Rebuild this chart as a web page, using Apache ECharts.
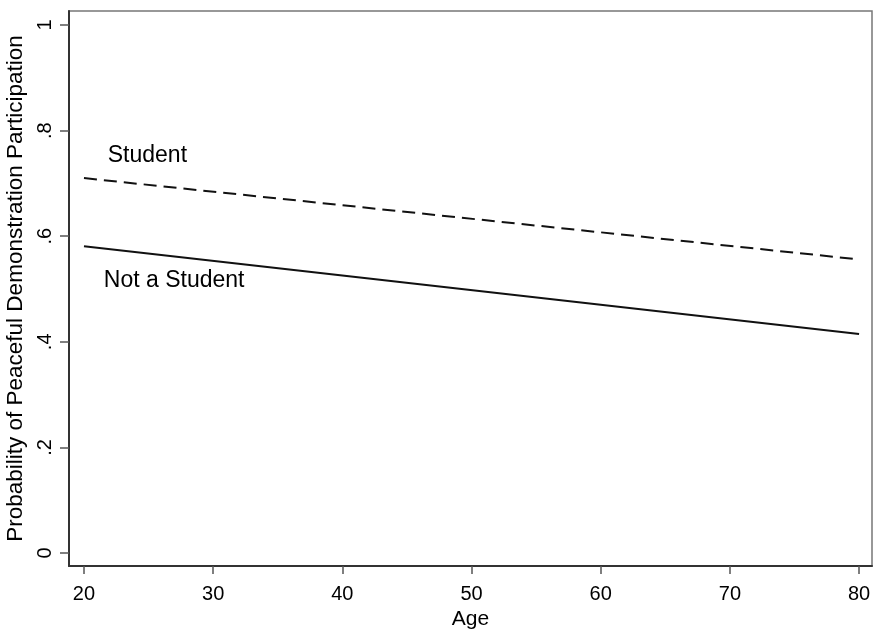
<!DOCTYPE html>
<html>
<head>
<meta charset="utf-8">
<title>Peaceful demonstration participation by age</title>
<script src="https://cdn.jsdelivr.net/npm/echarts@6/dist/echarts.min.js"></script>
<style>
  html, body { margin: 0; padding: 0; background: #fff; }
  #chart { width: 873px; height: 632px; }
</style>
</head>
<body>
<div id="chart"></div>
<script>
// predicted probabilities at the ends of the age range
var ages = [20, 80];
var studentVals = [0.710, 0.556];
var nonStudentVals = [0.581, 0.415];

// tick labels
var xTicks = [20, 30, 40, 50, 60, 70, 80];
var yTicks = [0, 0.2, 0.4, 0.6, 0.8, 1];
var yTickText = { '0': '0', '0.2': '.2', '0.4': '.4', '0.6': '.6', '0.8': '.8', '1': '1' };

// in-plot line labels: [age, prob, text]
var lineLabels = [
    [21.8, 0.753, 'Student'],
    [21.5, 0.516, 'Not a Student']
];

function pairs(xs, ys) {
    return xs.map(function (x, i) { return [x, ys[i]]; });
}

var font = 'Liberation Sans, Arial, Helvetica, sans-serif';
var myChart = echarts.init(document.getElementById('chart'));
var option = {
    animation: false,
    backgroundColor: '#fff',
    grid: {
        left: 69, right: 1, top: 11, bottom: 66,
        outerBoundsMode: 'none',
        containLabel: false,
        show: true,
        borderColor: '#777',
        borderWidth: 1.5
    },
    xAxis: {
        type: 'value',
        min: 18.84,
        max: 81.0,
        name: 'Age',
        nameLocation: 'middle',
        nameGap: 43,
        nameTextStyle: { fontFamily: font, fontSize: 21, color: '#000' },
        axisLine: { show: true, onZero: false, lineStyle: { color: '#333', width: 2 } },
        axisTick: { show: true, length: 8, lineStyle: { color: '#555', width: 1.5 }, customValues: xTicks },
        axisLabel: { fontFamily: font, fontSize: 20, color: '#000', margin: 18, customValues: xTicks },
        splitLine: { show: false }
    },
    yAxis: {
        type: 'value',
        min: -0.0246,
        max: 1.0265,
        name: 'Probability of Peaceful Demonstration Participation',
        nameLocation: 'middle',
        nameGap: 42,
        nameTextStyle: { fontFamily: font, fontSize: 22.5, color: '#000' },
        axisLine: { show: true, onZero: false, lineStyle: { color: '#333', width: 2 } },
        axisTick: { show: true, length: 9, lineStyle: { color: '#555', width: 1.5 }, customValues: yTicks },
        axisLabel: {
            fontFamily: font, fontSize: 20, color: '#000', margin: 14, rotate: 90,
            customValues: yTicks,
            formatter: function (v) {
                var k = String(Math.round(v * 10) / 10);
                return yTickText[k] !== undefined ? yTickText[k] : k;
            }
        },
        splitLine: { show: false }
    },
    series: [
        {
            name: 'Student',
            type: 'line',
            data: pairs(ages, studentVals),
            showSymbol: false,
            symbol: 'none',
            lineStyle: { color: '#111', width: 2, type: [13, 7] }
        },
        {
            name: 'Not a Student',
            type: 'line',
            data: pairs(ages, nonStudentVals),
            showSymbol: false,
            symbol: 'none',
            lineStyle: { color: '#111', width: 2, type: 'solid' }
        },
        {
            type: 'scatter',
            symbolSize: 1,
            itemStyle: { color: 'rgba(0,0,0,0)' },
            data: lineLabels.map(function (d) { return { value: [d[0], d[1]], name: d[2] }; }),
            label: {
                show: true,
                position: 'right',
                distance: 0,
                formatter: '{b}',
                fontFamily: font,
                fontSize: 23,
                color: '#000',
                opacity: 1
            },
            silent: true
        }
    ]
};
myChart.setOption(option);
</script>
</body>
</html>
